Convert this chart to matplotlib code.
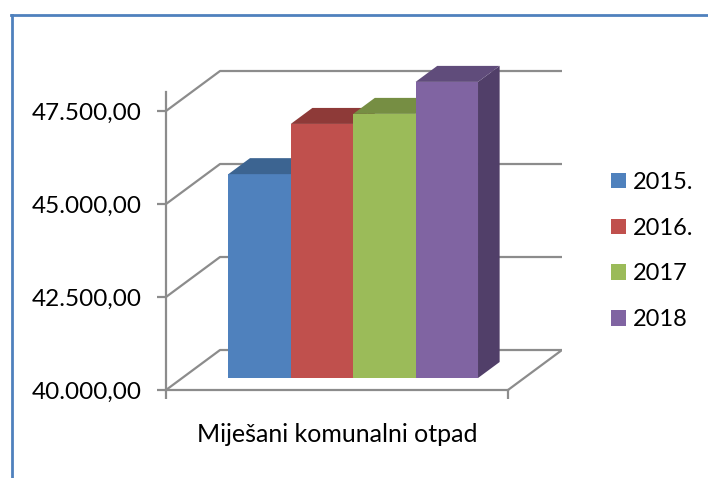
import matplotlib
matplotlib.use("Agg")
import matplotlib.pyplot as plt
from matplotlib.patches import Polygon, Rectangle, Patch
from matplotlib.lines import Line2D
from matplotlib.ticker import FuncFormatter

plt.rcParams["font.family"] = ["Lato", "DejaVu Sans"]

# Data
category = "Miješani komunalni otpad"
years = ["2015.", "2016.", "2017", "2018"]
values = [45480, 46830, 47100, 47960]
yticks = [40000, 42500, 45000, 47500]

face_colors = ["#4F81BD", "#C0504D", "#9BBB59", "#8064A2"]
top_colors = ["#3C6491", "#8E3A38", "#768E43", "#604C7B"]
side_colors = ["#3A5F8B", "#8B3937", "#728A40", "#513F69"]
grid_color = "#8C8C8C"

Y_MIN, Y_MAX = 40000, 48000
# oblique depth of the 3D box, in data units
DX, DY = 0.158, 1075
BAR_FRONT, BAR_BACK = 0.3, 0.7
GROUP = 0.73  # share of the category width taken by the bars


def fmt(v, _pos=None):
    s = f"{v:,.2f}"
    return s.replace(",", "X").replace(".", ",").replace("X", ".")


fig = plt.figure(figsize=(7.08, 4.78), dpi=100)
ax = fig.add_axes([166 / 708, 78 / 478, 396 / 708, 340 / 478])
ax.set_xlim(0, 1 + DX)
ax.set_ylim(40000 - 10 * 2500 / 93, 40000 + 330 * 2500 / 93)

# walls / floor
for v in yticks:
    if v == Y_MIN:
        xs = [0, DX, 1 + DX, 1]
        ys = [v, v + DY, v + DY, v]
    else:
        xs = [0, DX, 1 + DX]
        ys = [v, v + DY, v + DY]
    ax.plot(xs, ys, color=grid_color, lw=1.6, solid_capstyle="butt", zorder=1)

# bars
w = GROUP / len(values)
start = (1 - GROUP) / 2
fx, fy = BAR_FRONT * DX, BAR_FRONT * DY
bx, by = BAR_BACK * DX, BAR_BACK * DY
for i, v in enumerate(values):
    x0 = start + i * w
    side = Polygon([(x0 + w + fx, Y_MIN + fy), (x0 + w + fx, v + fy),
                    (x0 + w + bx, v + by), (x0 + w + bx, Y_MIN + by)],
                   closed=True, facecolor=side_colors[i], edgecolor="none", zorder=2)
    front = Rectangle((x0 + fx, Y_MIN + fy), w, v - Y_MIN,
                      facecolor=face_colors[i], edgecolor="none", zorder=3)
    top = Polygon([(x0 + fx, v + fy), (x0 + w + fx, v + fy),
                   (x0 + w + bx, v + by), (x0 + bx, v + by)],
                  closed=True, facecolor=top_colors[i], edgecolor="none", zorder=3)
    ax.add_patch(side)
    ax.add_patch(front)
    ax.add_patch(top)

# axes lines
for s in ["top", "right"]:
    ax.spines[s].set_visible(False)
ax.spines["left"].set_bounds(Y_MIN, Y_MAX)
ax.spines["bottom"].set_bounds(0, 1)
ax.spines["bottom"].set_position(("data", Y_MIN))
for s in ["left", "bottom"]:
    ax.spines[s].set_color(grid_color)
    ax.spines[s].set_linewidth(1.6)
ax.set_yticks(yticks)
ax.yaxis.set_major_formatter(FuncFormatter(fmt))
ax.set_xticks([0, 1])
ax.set_xticklabels([])
ax.tick_params(axis="both", direction="out", length=6.5, width=1.6,
               color=grid_color, labelsize=17.5, labelcolor="black")
ax.tick_params(axis="y", pad=11)
ax.patch.set_visible(False)

ax.annotate(category, xy=(0.5, Y_MIN), xytext=(0, -32), textcoords="offset points",
            ha="center", va="center", fontsize=18, color="black")

handles = [Patch(facecolor=c, edgecolor="none") for c in face_colors]
fig.legend(handles, years, loc="center left", bbox_to_anchor=(611 / 708, 1 - 251 / 478),
           frameon=False, fontsize=17, handlelength=0.64, handleheight=0.64,
           handletextpad=0.3, labelspacing=1.05, borderpad=0, borderaxespad=0)

# chart border (cropped)
border = "#4F81BD"
fig.add_artist(Line2D([12 / 708, 12 / 708], [0, 1 - 15 / 478], color=border, lw=2))
fig.add_artist(Line2D([11.3 / 708, 1], [1 - 15 / 478, 1 - 15 / 478], color=border, lw=2))

fig.savefig("out.png", dpi=100)
